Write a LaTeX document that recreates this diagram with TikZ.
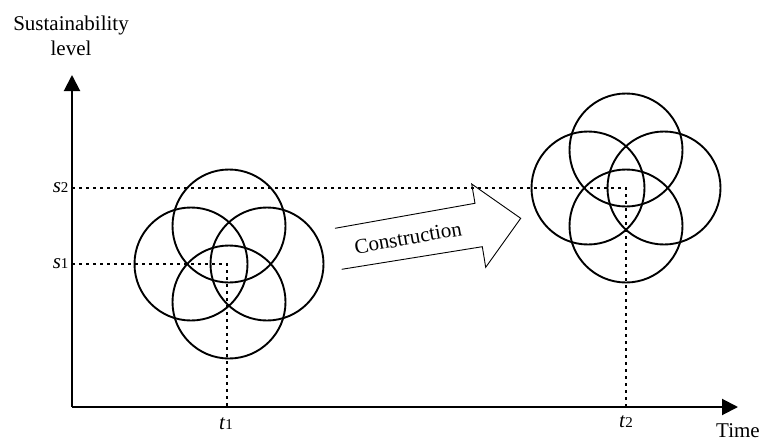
\documentclass[tikz,border=0pt]{standalone}
\usepackage{fontspec}
\setmainfont{Liberation Serif}
\usetikzlibrary{arrows.meta,positioning,calc}
\newcommand{\sublab}[2]{\textit{#1}{\fontsize{15}{15}\selectfont #2}}
\tikzset{ring/.style={draw,circle,line width=1.9pt,minimum size=113pt,inner sep=0pt},
 axis/.style={line width=2pt,-{Triangle[length=16pt,width=16pt]}},
 guide/.style={line width=1.8pt,dash pattern=on 3pt off 4pt},
 big/.style={line width=.9pt,line join=miter},
 every node/.style={font=\fontsize{21}{25}\selectfont}}
\begin{document}
\begin{tikzpicture}[x=1pt,y=-1pt]
\useasboundingbox (0,0) rectangle (763,444);
% axes
\coordinate (o) at (72,407);
\coordinate (ytop) at (72,75);\coordinate (xend) at (738,407);
\draw[axis] (o)--(ytop);\draw[axis] (o)--(xend);
\node[align=center] (ylab) at (71,36) {Sustainability\\level};
\node (xlab) at (738,431) {Time};
% left cluster
\coordinate (c1) at (229,264);
\foreach \n/\dx/\dy in {t/0/-38,l/-38/0,r/38/0,b/0/38}{\node[ring] (a\n) at ($(c1)+(\dx,\dy)$) {};}
% right cluster
\coordinate (c2) at (626,188);
\foreach \n/\dx/\dy in {t/0/-38,l/-38/0,r/38/0,b/0/38}{\node[ring] (b\n) at ($(c2)+(\dx,\dy)$) {};}
% guides
\coordinate (s1) at (72,264);\coordinate (p1) at (227,264);\coordinate (t1) at (227,407);
\coordinate (s2) at (72,188);\coordinate (p2) at (626,188);\coordinate (t2) at (626,407);
\draw[guide] (s1)--(p1)--(t1);\draw[guide] (s2)--(p2)--(t2);
\node[left=0pt of s2] (ls2) {\sublab{s}{2}};
\node[left=0pt of s1] (ls1) {\sublab{s}{1}};
\node (lt1) at (226,424) {\sublab{t}{1}};
\node (lt2) at (626,422) {\sublab{t}{2}};
% construction arrow
\draw[big] (335,228.3)--(475,203.3)--(471.7,184)--(520.7,218.3)--(485.7,267.3)--(482.3,246.7)--(341.7,269.3);
\node[rotate=10] (con) at (408,238) {Construction};
\end{tikzpicture}
\end{document}
